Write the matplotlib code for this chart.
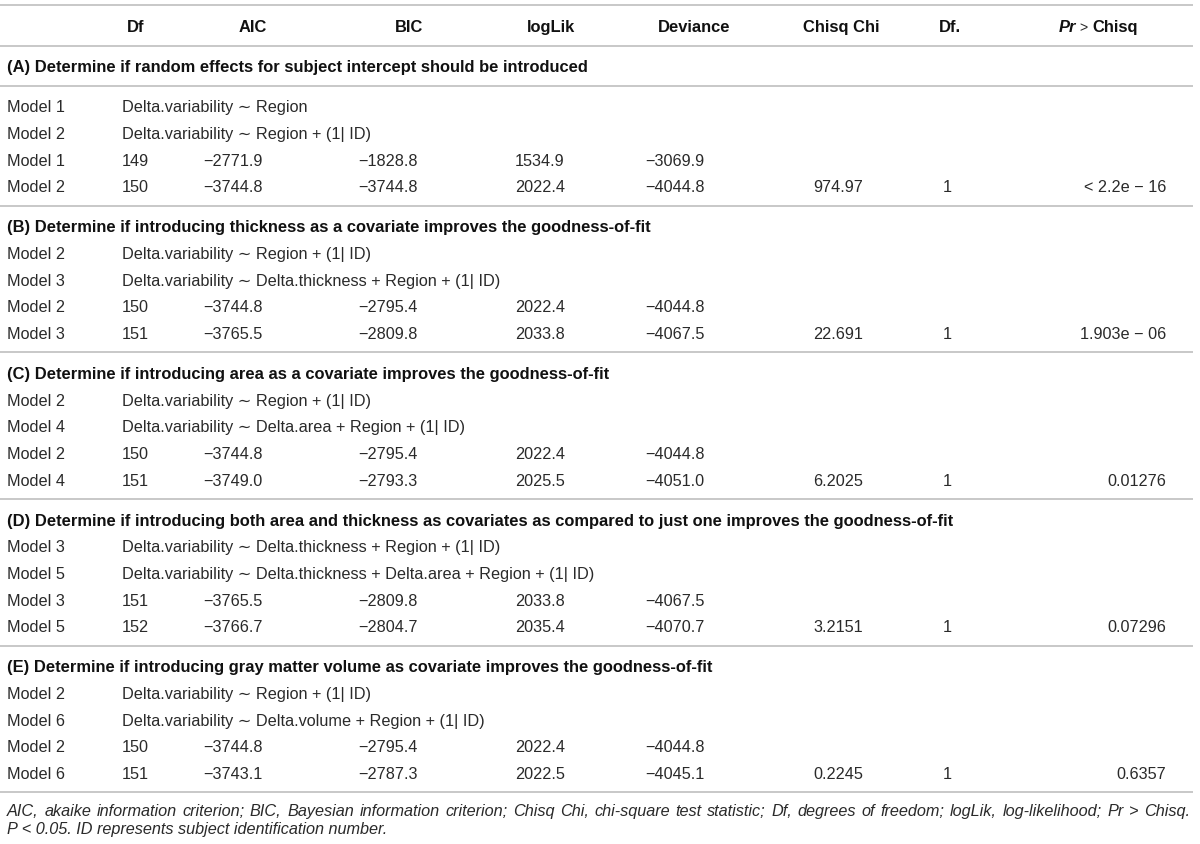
import matplotlib
matplotlib.use("Agg")
import matplotlib.pyplot as plt

FONT = ["Liberation Sans", "DejaVu Sans"]
plt.rcParams["font.family"] = FONT

INK = "#2a2a2a"
RULE = "#c8c8c8"

# --- table content ---
columns = ["Df", "AIC", "BIC", "logLik", "Deviance", "Chisq Chi", "Df.", "Pr > Chisq"]

section_titles = [
    "(A) Determine if random effects for subject intercept should be introduced",
    "(B) Determine if introducing thickness as a covariate improves the goodness-of-fit",
    "(C) Determine if introducing area as a covariate improves the goodness-of-fit",
    "(D) Determine if introducing both area and thickness as covariates as compared to just one improves the goodness-of-fit",
    "(E) Determine if introducing gray matter volume as covariate improves the goodness-of-fit",
]
model_names = [
    ["Model 1", "Model 2"],
    ["Model 2", "Model 3"],
    ["Model 2", "Model 4"],
    ["Model 3", "Model 5"],
    ["Model 2", "Model 6"],
]
formulas = [
    ["Delta.variability \u223c Region",
     "Delta.variability \u223c Region + (1| ID)"],
    ["Delta.variability \u223c Region + (1| ID)",
     "Delta.variability \u223c Delta.thickness + Region + (1| ID)"],
    ["Delta.variability \u223c Region + (1| ID)",
     "Delta.variability \u223c Delta.area + Region + (1| ID)"],
    ["Delta.variability \u223c Delta.thickness + Region + (1| ID)",
     "Delta.variability \u223c Delta.thickness + Delta.area + Region + (1| ID)"],
    ["Delta.variability \u223c Region + (1| ID)",
     "Delta.variability \u223c Delta.volume + Region + (1| ID)"],
]
df_vals = [["149", "150"], ["150", "151"], ["150", "151"], ["151", "152"], ["150", "151"]]
aic_vals = [["\u22122771.9", "\u22123744.8"], ["\u22123744.8", "\u22123765.5"],
            ["\u22123744.8", "\u22123749.0"], ["\u22123765.5", "\u22123766.7"],
            ["\u22123744.8", "\u22123743.1"]]
bic_vals = [["\u22121828.8", "\u22123744.8"], ["\u22122795.4", "\u22122809.8"],
            ["\u22122795.4", "\u22122793.3"], ["\u22122809.8", "\u22122804.7"],
            ["\u22122795.4", "\u22122787.3"]]
loglik_vals = [["1534.9", "2022.4"], ["2022.4", "2033.8"], ["2022.4", "2025.5"],
               ["2033.8", "2035.4"], ["2022.4", "2022.5"]]
deviance_vals = [["\u22123069.9", "\u22124044.8"], ["\u22124044.8", "\u22124067.5"],
                 ["\u22124044.8", "\u22124051.0"], ["\u22124067.5", "\u22124070.7"],
                 ["\u22124044.8", "\u22124045.1"]]
chisq_vals = ["974.97", "22.691", "6.2025", "3.2151", "0.2245"]
df_diff_vals = ["1", "1", "1", "1", "1"]
p_vals = ["< 2.2e \u2212 16", "1.903e \u2212 06", "0.01276", "0.07296", "0.6357"]

footnote_line1 = ("AIC, akaike information criterion; BIC, Bayesian information criterion; "
                  "Chisq Chi, chi-square test statistic; Df, degrees of freedom; "
                  "logLik, log-likelihood; Pr > Chisq.")
footnote_line2 = "P < 0.05. ID represents subject identification number."

# --- layout (pixels) ---
W, H = 1200, 845
FS = 11.7
FS_BOLD = 11.9
LEFT = 7
RIGHT_RULE = 1193
header_x = [136, 253, 409, 551, 694, 841, 950, 1098]
data_x = [122, 203, 358, 515, 645, 813, 943]   # left aligned columns
p_right = 1166
ROW = 26.67
CAP = 5.7  # half cap height, to place baselines from row centers

fig = plt.figure(figsize=(W / 100, H / 100), dpi=100)
ax = fig.add_axes([0, 0, 1, 1])
ax.set_xlim(0, W)
ax.set_ylim(H, 0)
ax.axis("off")


def rule(y):
    ax.plot([0, RIGHT_RULE], [y, y], color=RULE, lw=1.4, solid_capstyle="butt")


def txt(x, y, s, ha="left", **kw):
    return ax.text(x, y + CAP, s, ha=ha, va="baseline", fontsize=kw.pop("fontsize", FS),
                   color=kw.pop("color", INK), **kw)


renderer = fig.canvas.get_renderer()


def width(t):
    return t.get_window_extent(renderer=renderer).width


# header row
y = 6
rule(y)
y += 20.5
for cx, name in zip(header_x[:-1], columns[:-1]):
    txt(cx, y, name, ha="center", fontweight="bold", color="#111111", fontsize=FS_BOLD)
# "Pr > Chisq" with italic Pr
parts = [("Pr", dict(fontweight="bold", fontstyle="italic", color="#111111", fontsize=FS_BOLD)),
         (" > ", dict(fontsize=FS - 1.5)),
         ("Chisq", dict(fontweight="bold", color="#111111", fontsize=FS_BOLD))]
pieces = [txt(0, y, s, **kw) for s, kw in parts]
total = sum(width(p) for p in pieces)
x = header_x[-1] - total / 2
for p in pieces:
    p.set_x(x)
    x += width(p)
y += 20
rule(y)

for i, title in enumerate(section_titles):
    y += 20
    txt(LEFT, y, title, fontweight="bold", color="#111111", fontsize=FS_BOLD)
    if i == 0:
        y += 20
        rule(y)
        y += 20
    else:
        y += ROW
    # formula rows
    for name, form in zip(model_names[i], formulas[i]):
        txt(LEFT, y, name)
        txt(data_x[0], y, form)
        y += ROW
    # statistics rows
    for j, name in enumerate(model_names[i]):
        txt(LEFT, y, name)
        vals = [df_vals[i][j], aic_vals[i][j], bic_vals[i][j],
                loglik_vals[i][j], deviance_vals[i][j]]
        for cx, v in zip(data_x, vals):
            txt(cx, y, v)
        if j == 1:
            txt(data_x[5], y, chisq_vals[i])
            txt(data_x[6], y, df_diff_vals[i])
            txt(p_right, y, p_vals[i], ha="right")
        if j == 0:
            y += ROW
    y += 20
    rule(y)

# footnote, first line justified to the full width
y += 17
words = footnote_line1.split(" ")
wt = [txt(0, y, w_, fontstyle="italic") for w_ in words]
widths = [width(t) for t in wt]
gap = (1190 - LEFT - sum(widths)) / (len(words) - 1)
x = LEFT
for t, w_ in zip(wt, widths):
    t.set_x(x)
    x += w_ + gap
y += 18
txt(LEFT, y, footnote_line2, fontstyle="italic")

fig.savefig("out.png", dpi=100)
